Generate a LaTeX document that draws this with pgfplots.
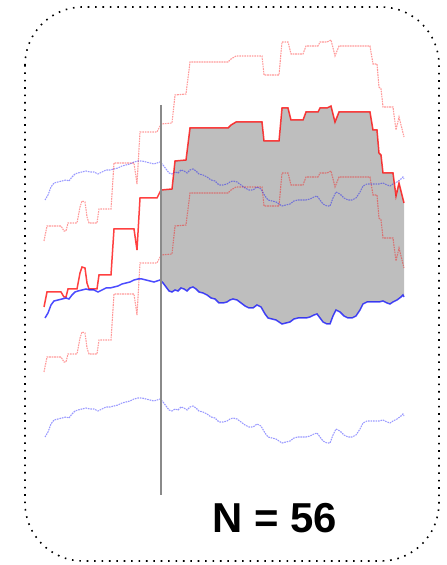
\documentclass[border=0pt]{standalone}
\usepackage{pgfplots}
\usepackage{pgfplotstable}
\pgfplotsset{compat=1.18}
\usepgfplotslibrary{fillbetween}
\usepackage{fontspec}
\setmainfont{Liberation Sans}

% central step series (red) and smooth series (blue), in drawing units
\pgfplotstableread{
x y
44 307
47 292
61 292
64 297
66 297
68 289
77 289
80 273
82 267
85 268
87 283
89 289
97 289
99 275
111 275
114 229
134 229
137 250
140 198
157 198
161 190
172 189
175 161
186 160
190 128
228 128
231 125
236 122
262 122
264 141
279 141
282 108
288 108
291 120
303 120
306 112
318 112
320 108
327 108
331 106
335 122
339 112
370 112
373 130
377 130
379 153
381 155
383 173
393 173
396 196
399 183
404 203
}\redseries

\pgfplotstableread{
x y
45 318
48 313
51 305
54 301
58 300
62 299
66 298
69 299
72 295
75 292
78 291
82 290
86 289
90 290
94 290
98 292
102 290
106 288
110 288
114 287
118 286
122 284
126 283
130 282
134 280
138 279
142 279
146 280
150 281
154 282
157 281
160 280
163 283
166 287
169 291
172 292
175 290
178 291
181 288
184 289
187 291
190 288
193 287
196 289
199 292
203 293
207 295
211 298
215 299
219 303
223 303
227 302
230 300
233 299
237 300
241 303
245 306
249 308
253 308
257 305
261 307
265 314
268 318
272 319
276 320
279 322
282 324
286 323
290 322
294 319
298 318
302 318
306 318
310 317
314 315
317 314
320 318
323 322
327 324
330 324
333 316
336 310
340 312
344 316
348 318
352 318
356 316
360 310
363 304
367 302
371 302
375 302
379 302
383 301
387 303
390 304
393 302
397 300
401 297
403 295
404 297
}\blueseries

\definecolor{bandgray}{HTML}{BEBEBE}
\definecolor{cutgray}{HTML}{8A8A8A}

\begin{document}
\begin{tikzpicture}
\begin{axis}[
  scale only axis, width=447bp, height=565bp,
  xmin=0, xmax=447, ymin=0, ymax=565, y dir=reverse,
  hide axis, clip=false,
  band/.style={line width=1.1bp, opacity=0.4, dash pattern=on 1.6bp off 0.9bp},
]
\path (rel axis cs:0,0) rectangle (rel axis cs:1,1);

% shaded gap between the two central series
\addplot[draw=none, name path=redc, forget plot] table {\redseries};
\addplot[draw=none, name path=bluec, forget plot] table {\blueseries};
\addplot[bandgray] fill between[of=redc and bluec, soft clip={domain=160:404}];

% bands around each series
\addplot[band, red] table[y expr=\thisrow{y}-66] {\redseries};
\addplot[band, red] table[y expr=\thisrow{y}+65] {\redseries};
\addplot[band, blue] table[y expr=\thisrow{y}-118] {\blueseries};
\addplot[band, blue] table[y expr=\thisrow{y}+119] {\blueseries};

% central series
\addplot[red, opacity=0.75, line width=1.5bp] table {\redseries};
\addplot[blue, opacity=0.7, line width=1.5bp] table {\blueseries};

% cut-off marker
\draw[cutgray, line width=2bp] (axis cs:160.5,105) -- (axis cs:160.5,495);

% frame
\draw[black, line width=1.6bp, dash pattern=on 1.6bp off 5.8bp, rounded corners=58bp]
  (axis cs:25,7) rectangle (axis cs:439,561);

\node[anchor=base, inner sep=0pt, font=\bfseries\fontsize{42}{50}\selectfont]
  at (axis cs:275,533) {N = 56};
\end{axis}
\end{tikzpicture}
\end{document}
